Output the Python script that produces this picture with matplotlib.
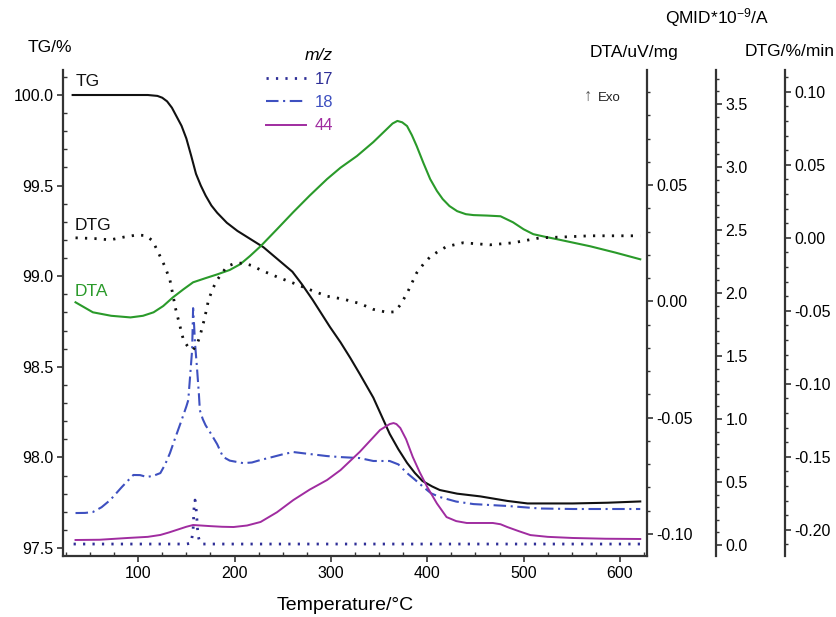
import matplotlib
matplotlib.use("Agg")
import matplotlib.pyplot as plt
from matplotlib.lines import Line2D
from matplotlib.ticker import MultipleLocator, FormatStrFormatter

plt.rcParams['font.family'] = ['Liberation Sans', 'DejaVu Sans']
plt.rcParams['mathtext.default'] = 'regular'

# ---------------- data ----------------
tg_T = [32, 60, 90, 110, 120, 125, 130, 135, 140, 145, 150, 155, 160, 165, 170, 176, 182, 192,
        203, 215, 230, 240, 250, 260, 270, 281, 290, 299, 310, 320, 330, 344, 361, 370, 379, 387,
        395, 405, 413, 431, 455, 483, 504, 551, 587, 621]
tg_val = [100.0, 100.0, 100.0, 100.0, 99.995, 99.985, 99.965, 99.93, 99.88, 99.83, 99.76, 99.665,
          99.565, 99.50, 99.445, 99.39, 99.35, 99.295, 99.25, 99.21, 99.16, 99.115, 99.07, 99.025,
          98.955, 98.87, 98.795, 98.72, 98.635, 98.55, 98.46, 98.33, 98.13, 98.045, 97.97, 97.915,
          97.87, 97.84, 97.82, 97.80, 97.785, 97.76, 97.746, 97.746, 97.75, 97.757]

dtg_T = [35, 55, 71, 85, 99, 108, 115, 123, 128, 133, 139, 147, 152, 157, 161, 164, 169, 173,
         178, 182, 192, 200, 209, 218, 227, 245, 261, 280, 296, 313, 330, 344, 358, 366, 372, 379,
         389, 396, 403, 412, 420, 437, 450, 465, 489, 517, 545, 569, 595, 621]
dtg_val = [0.0, -0.0005, -0.0014, 0.0005, 0.002, 0.0015, -0.002, -0.013, -0.020, -0.029, -0.049,
           -0.070, -0.075, -0.0767, -0.073, -0.0676, -0.055, -0.0425, -0.034, -0.0288, -0.0197,
           -0.0175, -0.0173, -0.019, -0.022, -0.027, -0.031, -0.036, -0.040, -0.042, -0.045,
           -0.049, -0.051, -0.0507, -0.046, -0.038, -0.024, -0.018, -0.013, -0.009, -0.006,
           -0.0034, -0.004, -0.0048, -0.0034, 0.0, 0.0007, 0.0014, 0.0014, 0.0014]

dta_T = [35, 53, 72, 92, 105, 116, 126, 136, 147, 157, 170, 182, 195, 206, 216, 227, 244, 261,
         278, 296, 310, 327, 344, 358, 364, 369, 374, 379, 384, 389, 396, 403, 410, 416, 423, 431,
         440, 448, 462, 476, 489, 500, 510, 522, 535, 552, 569, 595, 621]
dta_val = [-0.0004, -0.0047, -0.0062, -0.0069, -0.0062, -0.0047, -0.002, 0.0017, 0.0052, 0.0082,
           0.0100, 0.0116, 0.0135, 0.016, 0.0195, 0.0237, 0.031, 0.0384, 0.0455, 0.0526, 0.0575,
           0.0625, 0.0685, 0.0741, 0.0765, 0.0776, 0.0770, 0.0754, 0.0715, 0.0668, 0.0595, 0.0526,
           0.0475, 0.044, 0.041, 0.0388, 0.0375, 0.0371, 0.0369, 0.0366, 0.034, 0.031, 0.0289,
           0.0278, 0.0267, 0.0252, 0.0237, 0.021, 0.0181]

mz18_T = [35, 45, 53, 62, 71, 83, 95, 102, 109, 116, 123, 128, 133, 138, 144, 150, 152, 154, 156,
          157, 158, 159, 161, 163, 164, 167, 170, 175, 182, 188, 195, 209, 218, 227, 240, 250, 261,
          275, 296, 310, 330, 344, 361, 370, 379, 387, 396, 404, 413, 430, 448, 483, 517, 551, 590,
          621]
mz18_val = [0.254, 0.255, 0.262, 0.30, 0.357, 0.46, 0.556, 0.555, 0.54, 0.55, 0.571, 0.64, 0.73,
            0.84, 0.968, 1.10, 1.15, 1.35, 1.55, 1.88, 1.75, 1.60, 1.41, 1.20, 1.07, 1.00, 0.95,
            0.89, 0.80, 0.70, 0.67, 0.65, 0.655, 0.675, 0.70, 0.72, 0.738, 0.725, 0.706, 0.698,
            0.69, 0.667, 0.667, 0.64, 0.571, 0.52, 0.46, 0.41, 0.381, 0.345, 0.325, 0.31, 0.29,
            0.286, 0.286, 0.286]

mz44_T = [35, 60, 89, 110, 123, 132, 140, 150, 157, 165, 175, 187, 199, 213, 227, 244, 261, 278,
          296, 310, 330, 351, 361, 365, 368, 372, 378, 385, 392, 400, 410, 420, 430, 441, 455, 468,
          476, 483, 495, 507, 525, 551, 585, 621]
mz44_val = [0.04, 0.042, 0.056, 0.065, 0.08, 0.10, 0.12, 0.145, 0.159, 0.155, 0.15, 0.145, 0.143,
            0.155, 0.183, 0.26, 0.357, 0.44, 0.516, 0.595, 0.74, 0.913, 0.96, 0.968, 0.96, 0.929,
            0.84, 0.698, 0.58, 0.46, 0.33, 0.222, 0.19, 0.175, 0.175, 0.175, 0.165, 0.143, 0.11,
            0.079, 0.065, 0.056, 0.05, 0.048]

mz17_T = [33, 150, 155, 157, 158, 159, 160, 161, 162, 164, 166, 621]
mz17_val = [0.008, 0.008, 0.015, 0.12, 0.30, 0.357, 0.30, 0.20, 0.08, 0.02, 0.008, 0.008]

mz_labels = ['17', '18', '44']
x_ticks = [100, 200, 300, 400, 500, 600]

# ---------------- styles ----------------
C_TG = '#111111'
C_DTA = '#2a9a2a'
C_17 = '#2e2e96'
C_18 = '#3e50c0'
C_44 = '#a02ca0'
SP = '#333333'

W, H = 837, 617
fig = plt.figure(figsize=(W / 100, H / 100), dpi=100)
ax = fig.add_axes([63 / W, 1 - 556 / H, 584 / W, 486 / H])
ax_dta = ax.twinx()
ax_q = ax.twinx()
ax_dtg = ax.twinx()

# TG main axis
ax.plot(tg_T, tg_val, color=C_TG, lw=1.5, zorder=5)
ax.set_xlim(22, 628)
ax.set_ylim(97.456, 100.138)
ax.yaxis.set_major_locator(MultipleLocator(0.5))
ax.yaxis.set_minor_locator(MultipleLocator(0.1))
ax.yaxis.set_major_formatter(FormatStrFormatter('%.1f'))
ax.set_xticks(x_ticks)
ax.xaxis.set_minor_locator(MultipleLocator(25))
for s in ['top', 'right']:
    ax.spines[s].set_visible(False)
for s in ['left', 'bottom']:
    ax.spines[s].set_color(SP)
    ax.spines[s].set_linewidth(1.6)
ax.tick_params(axis='both', which='major', direction='out', length=4, width=1.2, color=SP,
               labelsize=11.5, pad=3)
ax.tick_params(axis='both', which='minor', direction='in', length=3, width=1.0, color=SP)

# DTA axis
ax_dta.plot(dta_T, dta_val, color=C_DTA, lw=1.5)
ax_dta.set_ylim(-0.1095, 0.0995)
ax_dta.yaxis.set_major_locator(MultipleLocator(0.05))
ax_dta.yaxis.set_minor_locator(MultipleLocator(0.01))
ax_dta.yaxis.set_major_formatter(FormatStrFormatter('%.2f'))

# QMID axis
ax_q.plot(mz17_T, mz17_val, color=C_17, lw=2.0, ls=(0, (0.8, 2.6)))
ax_q.plot(mz18_T, mz18_val, color=C_18, lw=1.5, ls=(0, (6, 2.2, 1, 2.2)))
ax_q.plot(mz44_T, mz44_val, color=C_44, lw=1.4)
ax_q.set_ylim(-0.087, 3.77)
ax_q.yaxis.set_major_locator(MultipleLocator(0.5))
ax_q.yaxis.set_minor_locator(MultipleLocator(0.1))
ax_q.yaxis.set_major_formatter(FormatStrFormatter('%.1f'))
ax_q.spines['right'].set_position(('axes', (716 - 63) / 584))

# DTG axis
ax_dtg.plot(dtg_T, dtg_val, color=C_TG, lw=2.0, ls=(0, (0.8, 2.6)))
ax_dtg.set_ylim(-0.218, 0.115)
ax_dtg.yaxis.set_major_locator(MultipleLocator(0.05))
ax_dtg.yaxis.set_minor_locator(MultipleLocator(0.01))
ax_dtg.yaxis.set_major_formatter(FormatStrFormatter('%.2f'))
ax_dtg.spines['right'].set_position(('axes', (785 - 63) / 584))

for a in [ax_dta, ax_q, ax_dtg]:
    for s in ['top', 'left', 'bottom']:
        a.spines[s].set_visible(False)
    a.spines['right'].set_color(SP)
    a.spines['right'].set_linewidth(1.6)
    a.tick_params(axis='y', which='major', direction='out', length=4, width=1.2, color=SP,
                  labelsize=11.5, pad=3)
    a.tick_params(axis='y', which='minor', direction='out', length=2.5, width=1.0, color=SP)

# legend for m/z
handles = [Line2D([], [], color=C_17, lw=2.0, ls=(0, (0.8, 2.6))),
           Line2D([], [], color=C_18, lw=1.5, ls=(0, (6, 2.2, 1, 2.2))),
           Line2D([], [], color=C_44, lw=1.4)]
leg = ax.legend(handles, mz_labels, loc='upper left', bbox_to_anchor=(258 / W, 1 - 40 / H),
                bbox_transform=fig.transFigure, frameon=False, fontsize=12,
                labelcolor=[C_17, C_18, C_44], handlelength=2.4, handletextpad=0.5,
                labelspacing=0.5, borderpad=0, title='m/z', alignment='right')
leg.get_title().set_fontstyle('italic')
leg.get_title().set_fontsize(12.5)

# axis titles
fig.text(28 / W, 1 - 47 / H, 'TG/%', fontsize=12.5, ha='left', va='center')
fig.text(590 / W, 1 - 52 / H, 'DTA/uV/mg', fontsize=12.5, ha='left', va='center')
fig.text(665 / W, 1 - 18 / H, 'QMID*10$^{\u2212 9}$/A', fontsize=12.5, ha='left', va='center')
fig.text(745 / W, 1 - 52 / H, 'DTG/%/min', fontsize=12.5, ha='left', va='center')
fig.text(345 / W, 1 - 605 / H, 'Temperature/\u00b0C', fontsize=14, ha='center', va='center')

# curve annotations
fig.text(76 / W, 1 - 82 / H, 'TG', fontsize=12.5, ha='left', va='center', color='#111111')
fig.text(75 / W, 1 - 226 / H, 'DTG', fontsize=12.5, ha='left', va='center', color='#111111')
fig.text(75 / W, 1 - 292 / H, 'DTA', fontsize=12.5, ha='left', va='center', color=C_DTA)
fig.text(584 / W, 1 - 96 / H, '\u2191', fontsize=12, ha='left', va='center', color='#555555')
fig.text(598 / W, 1 - 98 / H, 'Exo', fontsize=9.5, ha='left', va='center', color='#222222')

fig.savefig('out.png', dpi=100)
